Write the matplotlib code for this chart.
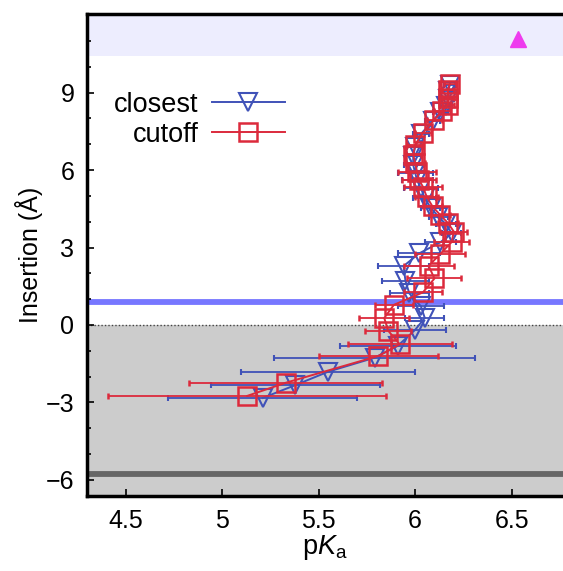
import numpy as np
import matplotlib
matplotlib.use('Agg')
import matplotlib.pyplot as plt
from matplotlib.ticker import MultipleLocator, FuncFormatter
from matplotlib.lines import Line2D

plt.rcParams['font.family'] = ['Liberation Sans', 'DejaVu Sans']
plt.rcParams['mathtext.fontset'] = 'custom'
plt.rcParams['mathtext.rm'] = 'Liberation Sans'
plt.rcParams['mathtext.it'] = 'Liberation Sans:italic'

# closest (blue triangles): pKa, insertion depth, pKa error
closest_pka = [5.21, 5.38, 5.55, 5.79, 5.91, 6.00, 6.05, 6.03, 5.97, 5.95, 5.94, 6.02, 6.13,
               6.19, 6.16, 6.12, 6.08, 6.05, 6.03, 6.01, 6.00, 5.99, 5.99, 6.00, 6.03, 6.09,
               6.13, 6.16, 6.17, 6.17, 6.18]
closest_ins = [-2.83, -2.33, -1.81, -1.27, -0.81, -0.19, 0.27, 0.72, 1.22, 1.70, 2.28, 2.77, 3.20,
               3.55, 3.90, 4.20, 4.55, 4.90, 5.30, 5.60, 5.90, 6.20, 6.55, 6.90, 7.40, 7.90,
               8.25, 8.50, 8.75, 9.05, 9.30]
closest_err = [0.49, 0.44, 0.45, 0.52, 0.30, 0.16, 0.10, 0.12, 0.10, 0.12, 0.13, 0.11, 0.08,
               0.05, 0.05, 0.05, 0.05, 0.06, 0.09, 0.08, 0.09, 0.05, 0.04, 0.04, 0.04, 0.04,
               0.04, 0.03, 0.03, 0.03, 0.03]

# cutoff (red squares)
cutoff_pka = [5.13, 5.33, 5.81, 5.92, 5.86, 5.84, 5.89, 6.04, 6.10, 6.07, 6.13, 6.19,
              6.20, 6.17, 6.13, 6.09, 6.06, 6.04, 6.02, 6.01, 6.00, 5.99, 6.00, 6.04, 6.10,
              6.14, 6.17, 6.17, 6.17, 6.18]
cutoff_ins = [-2.75, -2.24, -1.20, -0.75, -0.22, 0.27, 0.78, 1.26, 1.80, 2.29, 2.75, 3.22,
              3.62, 3.95, 4.26, 4.59, 4.97, 5.36, 5.62, 5.94, 6.28, 6.59, 6.98, 7.44, 7.95,
              8.30, 8.53, 8.80, 9.11, 9.35]
cutoff_err = [0.72, 0.50, 0.31, 0.27, 0.12, 0.13, 0.10, 0.10, 0.14, 0.13, 0.13, 0.09,
              0.07, 0.05, 0.05, 0.05, 0.06, 0.10, 0.09, 0.10, 0.05, 0.04, 0.04, 0.04, 0.04,
              0.04, 0.03, 0.03, 0.03, 0.03]

# reference marker and horizontal levels
ref_pka, ref_ins = 6.535, 11.1
band_top = 10.42
blue_level = 0.89
gray_level = -5.76
yticks = [-6, -3, 0, 3, 6, 9]

blue = '#4052b8'
red = '#dc2a3c'

fig = plt.figure(figsize=(5.63, 5.71), dpi=100)
ax = fig.add_axes([0.1545, 0.1313, 0.8455, 0.8442])
ax.set_xlim(4.3, 6.766)
ax.set_ylim(-6.63, 12.05)

ax.axhspan(band_top, 12.05, color='#ededfe', zorder=0, lw=0)
ax.axhspan(-6.63, 0, color='#cccccc', zorder=0, lw=0)
ax.axhline(0, color='#444444', lw=1.0, ls=(0, (1, 1.5)), zorder=1)
ax.axhline(blue_level, color='#7777ff', lw=4.2, zorder=1)
ax.axhline(gray_level, color='#666666', lw=4.2, zorder=1)

ax.errorbar(closest_pka, closest_ins, xerr=closest_err, color=blue, lw=1.4,
            marker='v', ms=13, mfc='none', mec=blue, mew=1.5, capsize=2.5,
            elinewidth=1.3, zorder=3)
ax.errorbar(cutoff_pka, cutoff_ins, xerr=cutoff_err, color=red, lw=1.4,
            marker='s', ms=12.5, mfc='none', mec=red, mew=1.8, capsize=2.5,
            elinewidth=1.3, zorder=4)

ax.plot([ref_pka], [ref_ins], marker='^', ms=12, color='#ee3bee', ls='none', zorder=5)

ax.set_yticks(yticks)
ax.xaxis.set_major_locator(MultipleLocator(0.5))
ax.yaxis.set_minor_locator(MultipleLocator(1))
ax.xaxis.set_major_formatter(FuncFormatter(lambda v, p: f'{v:g}'))
ax.yaxis.set_major_formatter(FuncFormatter(lambda v, p: f'{v:g}'.replace('-', '\u2212')))
ax.tick_params(axis='both', which='both', direction='in', labelsize=18, width=1.2)
ax.tick_params(axis='both', which='major', length=5)
ax.tick_params(axis='both', which='minor', length=3)
ax.tick_params(axis='x', pad=9)
ax.tick_params(axis='y', pad=9)

for s in ['left', 'bottom', 'top']:
    ax.spines[s].set_linewidth(2.5)
ax.spines['right'].set_visible(False)

ax.set_xlabel(r'p$K_\mathrm{a}$', fontsize=19.5, labelpad=0)
ax.set_ylabel('Insertion (Å)', fontsize=18, labelpad=2)

handles = [Line2D([], [], color=blue, lw=1.4, marker='v', ms=13, mfc='none', mew=1.5),
           Line2D([], [], color=red, lw=1.4, marker='s', ms=12.5, mfc='none', mew=1.8)]
leg = ax.legend(handles, ['closest', 'cutoff'], loc='center right',
                bbox_to_anchor=(0.416, 0.781), frameon=False,
                markerfirst=False, fontsize=19.5, handlelength=2.7,
                handletextpad=0.5, labelspacing=0.15, borderpad=0, borderaxespad=0)

fig.savefig('out.png', dpi=100)
